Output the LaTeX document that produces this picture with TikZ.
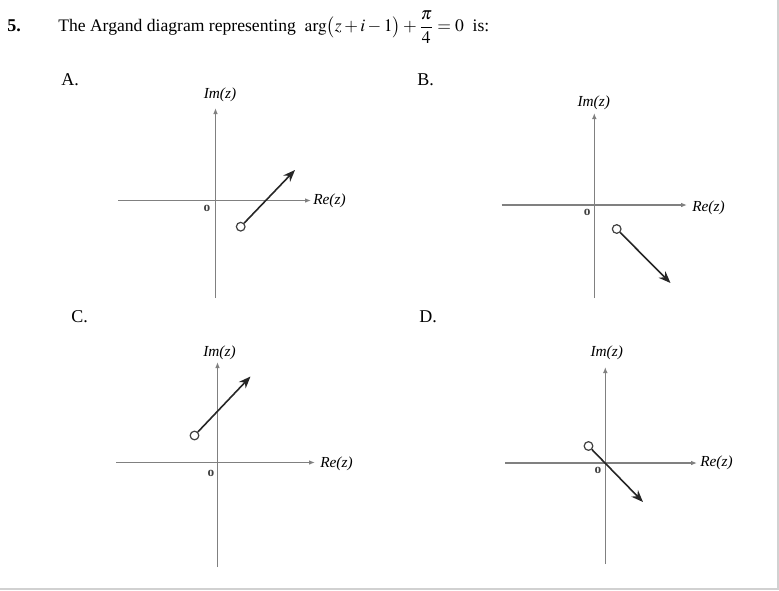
\documentclass[tikz,border=0pt]{standalone}
\usepackage{amsmath}
\usepackage{mathptmx}
\usepackage{fontspec}
\setmainfont{Liberation Serif}
\usetikzlibrary{arrows.meta}

\begin{document}
\begin{tikzpicture}[
  x=0.75pt, y=-0.75pt,
  axis/.style={draw=black!50, line width=1.1pt, -{Latex[length=4.5pt,width=3.5pt]}},
  ray/.style={draw=black!85, line width=1.2pt, -{Stealth[length=9pt,width=7pt]}},
  hole/.style={circle, draw=black!75, fill=white, line width=0.9pt, inner sep=0pt, minimum size=6.5pt},
  lbl/.style={font=\fontsize{11.5}{12}\selectfont\itshape, inner sep=0pt},
  orig/.style={font=\fontsize{10}{11}\selectfont\bfseries, text=black!75, inner sep=0pt},
  opt/.style={font=\fontsize{13.5}{15}\selectfont, inner sep=0pt, anchor=base west},
]
  \useasboundingbox (0,0) rectangle (779,590);
  % Frame (right and bottom edge only)
  \draw[black!18, line width=1.5pt] (0,588.8) -- (777.8,588.8) -- (777.8,0);

  % Question
  \node[opt, font=\fontsize{13.5}{15}\selectfont\bfseries] (num) at (7,31.7) {5.};
  \node[opt, font=\fontsize{13.2}{15}\selectfont] (question) at (58,31.7)
    {The Argand diagram representing\ \ $\arg\bigl(z+i-1\bigr)+\dfrac{\pi}{4}=0$\ \ is:};

  % Option letters
  \node[opt] (optA) at (61,85.5) {A.};
  \node[opt] (optB) at (417,85.5) {B.};
  \node[opt] (optC) at (71,322) {C.};
  \node[opt] (optD) at (419,322) {D.};

  % Panel A
  \coordinate (Aw) at (118,200.5);   \coordinate (Ae) at (311,200.5);
  \coordinate (As) at (215.5,298);   \coordinate (An) at (215.5,108);
  \draw[axis] (Aw) -- (Ae);
  \draw[axis] (As) -- (An);
  \node[lbl] (Aim) at (220,95) {Im(z)};
  \node[lbl, anchor=west] (Are) at (313,201) {Re(z)};
  \node[orig] (Ao) at (207,208.5) {o};
  \node[hole] (Ah) at (240.7,226.7) {};
  \coordinate (At) at (295,170);
  \draw[ray] (Ah) -- (At);

  % Panel B
  \coordinate (Bw) at (501.7,205);   \coordinate (Be) at (687,205);
  \coordinate (Bs) at (594.3,298);   \coordinate (Bn) at (594.3,113);
  \draw[axis] (Bw) -- (Be);
  \draw[axis] (Bs) -- (Bn);
  \node[lbl] (Bim) at (593.7,103.3) {Im(z)};
  \node[lbl, anchor=west] (Bre) at (692,208) {Re(z)};
  \node[orig] (Bo) at (587.3,212.7) {o};
  \node[hole] (Bh) at (616.7,229) {};
  \coordinate (Bt) at (670.5,283);
  \draw[ray] (Bh) -- (Bt);

  % Panel C
  \coordinate (Cw) at (116,462.5);   \coordinate (Ce) at (315,462.5);
  \coordinate (Cs) at (217.5,567);   \coordinate (Cn) at (217.5,362);
  \draw[axis] (Cw) -- (Ce);
  \draw[axis] (Cs) -- (Cn);
  \node[lbl] (Cim) at (219.5,353.3) {Im(z)};
  \node[lbl, anchor=west] (Cre) at (320,464) {Re(z)};
  \node[orig] (Co) at (211,473) {o};
  \node[hole] (Ch) at (194.5,435.5) {};
  \coordinate (Ct) at (250.5,376.5);
  \draw[ray] (Ch) -- (Ct);

  % Panel D
  \coordinate (Dw) at (505,463);     \coordinate (De) at (697,463);
  \coordinate (Ds) at (605.3,564);   \coordinate (Dn) at (605.3,367);
  \draw[axis] (Dw) -- (De);
  \draw[axis] (Ds) -- (Dn);
  \node[lbl] (Dim) at (606.7,353.3) {Im(z)};
  \node[lbl, anchor=west] (Dre) at (700,463) {Re(z)};
  \node[orig] (Do) at (598,470) {o};
  \node[hole] (Dh) at (588.5,446) {};
  \coordinate (Dt) at (643,502);
  \draw[ray] (Dh) -- (Dt);
\end{tikzpicture}
\end{document}
